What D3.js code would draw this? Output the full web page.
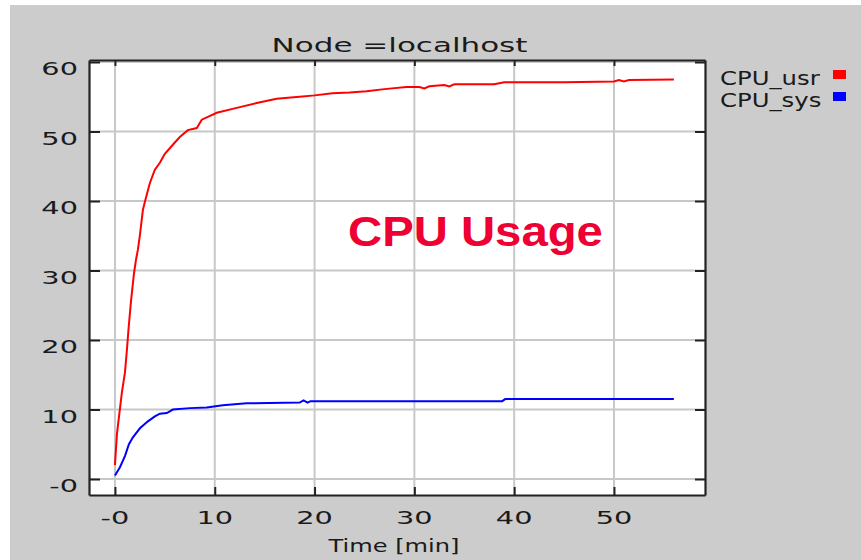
<!DOCTYPE html>
<html>
<head>
<meta charset="utf-8">
<script src="https://cdn.jsdelivr.net/npm/d3@7"></script>
<style>
  html, body { margin: 0; padding: 0; background: #ffffff; }
  svg { display: block; }
</style>
</head>
<body>
<script>
// ---------------- DATA ----------------
const chartTitle = "Node =localhost";
const xAxisTitle = "Time [min]";
const overlayText = "CPU Usage";
const seriesNames = ["CPU_usr", "CPU_sys"];
const seriesColors = ["#ff0000", "#0000ff"];

const xTicks = [0, 10, 20, 30, 40, 50];
const xTickLabels = ["-0", "10", "20", "30", "40", "50"];
const yTicks = [0, 10, 20, 30, 40, 50, 60];
const yTickLabels = ["-0", "10", "20", "30", "40", "50", "60"];

// [time (min), percent]
const cpuUsr = [
  [0, 2.0], [0.2, 6.5], [0.45, 9.5], [0.7, 12.5], [1.0, 15.3], [1.2, 18.6],
  [1.35, 21.4], [1.6, 25.5], [1.9, 29.5], [2.1, 31.5], [2.3, 33.0], [2.5, 35.1],
  [2.8, 38.7], [3.0, 39.9], [3.5, 42.6], [4.0, 44.5], [4.5, 45.5], [5.0, 46.8],
  [5.8, 48.1], [6.5, 49.2], [7.3, 50.2], [8.2, 50.5], [8.7, 51.7], [10.2, 52.7],
  [12.2, 53.4], [14.2, 54.1], [16.2, 54.7], [18.5, 55.0], [20.0, 55.2], [21.8, 55.5],
  [23.5, 55.6], [25.2, 55.8], [27.0, 56.1], [29.2, 56.4], [30.5, 56.4], [31.0, 56.2],
  [31.5, 56.5], [33.0, 56.7], [33.5, 56.5], [34.0, 56.8], [38.0, 56.8], [39.0, 57.1],
  [45.0, 57.1], [50.0, 57.2], [50.5, 57.4], [51.0, 57.2], [51.5, 57.4], [56.0, 57.5]
];
const cpuSys = [
  [0, 0.5], [0.5, 1.7], [1.0, 3.3], [1.4, 5.0], [1.8, 6.0], [2.5, 7.3],
  [3.3, 8.3], [4.0, 9.0], [4.5, 9.4], [5.2, 9.5], [5.8, 10.0], [7.5, 10.2],
  [9.2, 10.3], [10.8, 10.6], [13.2, 10.9], [18.5, 11.0], [18.9, 11.3], [19.3, 11.0],
  [19.6, 11.2], [38.8, 11.2], [39.1, 11.5], [56.0, 11.5]
];
const seriesData = [cpuUsr, cpuSys];

// ---------------- LAYOUT ----------------
const W = 861, H = 560;
const plot = { left: 89, top: 60, right: 705, bottom: 495 };
const textColor = "#1a1a1a";
const fontFam = "'DejaVu Sans', Verdana, sans-serif";

const svg = d3.select("body").append("svg")
  .attr("width", W).attr("height", H);

// background panel
svg.append("rect").attr("x", 0).attr("y", 0).attr("width", W).attr("height", H).attr("fill", "#ffffff");
svg.append("rect").attr("x", 10).attr("y", 5).attr("width", W - 10).attr("height", H - 5).attr("fill", "#cccccc");

// plot area
svg.append("rect")
  .attr("x", plot.left).attr("y", plot.top)
  .attr("width", plot.right - plot.left).attr("height", plot.bottom - plot.top)
  .attr("fill", "#ffffff");

const x = d3.scaleLinear().domain([-2.6, 59.12]).range([plot.left, plot.right]);
const y = d3.scaleLinear().domain([-2.3, 60.29]).range([plot.bottom, plot.top]);

// grid
const grid = svg.append("g");
grid.selectAll("line.vx").data(xTicks).join("line")
  .attr("x1", d => x(d)).attr("x2", d => x(d))
  .attr("y1", plot.top).attr("y2", plot.bottom)
  .attr("stroke", "#c8c8c8").attr("stroke-width", 2);
grid.selectAll("line.hy").data(yTicks).join("line")
  .attr("y1", d => y(d)).attr("y2", d => y(d))
  .attr("x1", plot.left).attr("x2", plot.right)
  .attr("stroke", "#c8c8c8").attr("stroke-width", 2);

// series lines
const line = d3.line().x(d => x(d[0])).y(d => y(d[1]));
seriesData.forEach((data, i) => {
  svg.append("path").datum(data)
    .attr("d", line)
    .attr("fill", "none")
    .attr("stroke", seriesColors[i])
    .attr("stroke-width", 2)
    .attr("stroke-linejoin", "miter");
});

// axes with inward ticks (frame on all four sides)
function styleAxis(g) {
  g.selectAll("path.domain").attr("stroke", "#222").attr("stroke-width", 2.2);
  g.selectAll(".tick line").attr("stroke", "#222").attr("stroke-width", 2);
  g.selectAll(".tick text").remove();
}
svg.append("g").attr("transform", `translate(0,${plot.bottom})`)
  .call(d3.axisTop(x).tickValues(xTicks).tickSizeInner(8).tickSizeOuter(0))
  .call(styleAxis);
svg.append("g").attr("transform", `translate(0,${plot.top})`)
  .call(d3.axisBottom(x).tickValues(xTicks).tickSizeInner(6).tickSizeOuter(0))
  .call(styleAxis);
svg.append("g").attr("transform", `translate(${plot.left},0)`)
  .call(d3.axisRight(y).tickValues(yTicks).tickSizeInner(11).tickSizeOuter(0))
  .call(styleAxis);
svg.append("g").attr("transform", `translate(${plot.right},0)`)
  .call(d3.axisLeft(y).tickValues(yTicks).tickSizeInner(10).tickSizeOuter(0))
  .call(styleAxis);

// horizontally stretched text helper
function stretchedText(str, px, py, size, sx, anchor, opts = {}) {
  const g = svg.append("g").attr("transform", `translate(${px},${py}) scale(${sx},1)`);
  return g.append("text")
    .attr("x", 0).attr("y", 0)
    .attr("text-anchor", anchor)
    .attr("font-family", opts.family || fontFam)
    .attr("font-size", size)
    .attr("font-weight", opts.weight || "normal")
    .attr("fill", opts.fill || textColor)
    .text(str);
}

// tick labels
xTicks.forEach((t, i) => stretchedText(xTickLabels[i], x(t), 524, 18, 1.6, "middle"));
yTicks.forEach((t, i) => stretchedText(yTickLabels[i], 78, y(t) + 13, 18, 1.6, "end"));

// title and axis title
stretchedText(chartTitle, 399.5, 52, 20, 1.55, "middle");
stretchedText(xAxisTitle, 394, 552, 17, 1.42, "middle");

// legend
const legendY = [85, 107];
seriesNames.forEach((name, i) => {
  stretchedText(name, 720, legendY[i], 19, 1.28, "start");
  svg.append("rect")
    .attr("x", 833).attr("y", legendY[i] - 15)
    .attr("width", 13).attr("height", 9)
    .attr("fill", seriesColors[i]);
});

// overlay annotation
stretchedText(overlayText, 348, 246, 43, 1.1, "start",
  { family: "'Liberation Sans', Arial, sans-serif", weight: "bold", fill: "#ee0033" });
</script>
</body>
</html>
